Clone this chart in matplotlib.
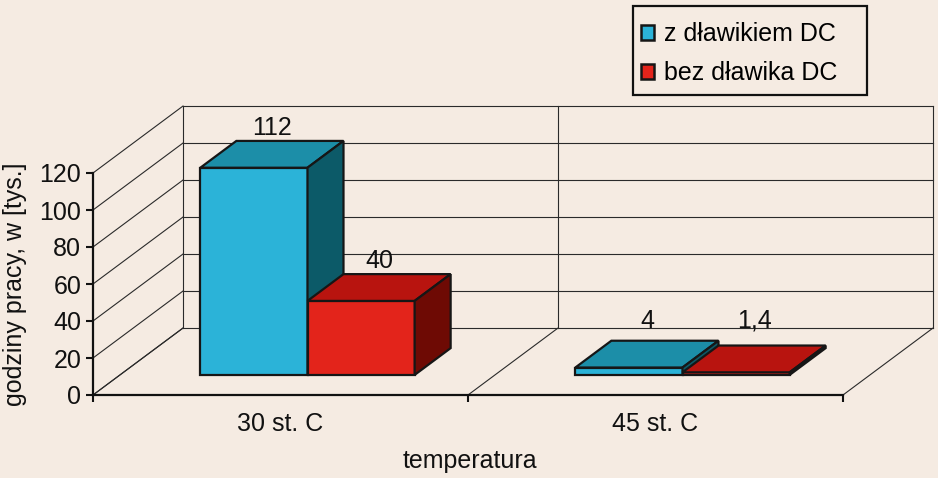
import matplotlib
matplotlib.use("Agg")
import matplotlib.pyplot as plt
from matplotlib.patches import Polygon, Patch, Rectangle

# ---- data ----
categories = ["30 st. C", "45 st. C"]
series_names = ["z dławikiem DC", "bez dławika DC"]
with_choke = [112, 4]
without_choke = [40, 1.4]
value_labels = [["112", "4"], ["40", "1,4"]]
y_ticks = [0, 20, 40, 60, 80, 100, 120]
y_label = "godziny pracy, w [tys.]"
x_label = "temperatura"

# ---- style ----
bg = "#F5EBE2"
front_cols = ["#2BB3D8", "#E3241B"]
top_cols = ["#1C8EA8", "#B8140F"]
side_cols = ["#0C5A68", "#6E0A04"]
edge = "#161616"
grid_col = "#2a2a2a"
FS = 18
plt.rcParams["font.family"] = ["Liberation Sans", "DejaVu Sans"]

# oblique depth of floor (in data units)
DX, DY = 0.24, 36.2
d_front, d_back = 0.3, 0.7
gap = 1.5
n_series = 2
w = 1.0 / (n_series + gap)

fig = plt.figure(figsize=(9.38, 4.78), dpi=100, facecolor=bg)
ax = fig.add_axes([93 / 938, (478 - 395) / 478, 750 / 938, 222 / 478])
ax.set_xlim(0, len(categories))
ax.set_ylim(0, max(y_ticks))
ax.patch.set_visible(False)

def P(x, y, d):
    return (x + d * DX, y + d * DY)

ymax = max(y_ticks)
ncat = len(categories)
# back wall gridlines and side wall diagonals
for v in y_ticks:
    a = P(0, v, 1); b = P(ncat, v, 1)
    ax.plot([a[0], b[0]], [a[1], b[1]], color=grid_col, lw=0.8, clip_on=False, zorder=1)
    c = P(0, v, 0)
    ax.plot([c[0], a[0]], [c[1], a[1]], color=grid_col, lw=0.8, clip_on=False, zorder=1)
# vertical lines on back wall and floor diagonals
for xc in range(ncat + 1):
    a = P(xc, 0, 1); b = P(xc, ymax, 1)
    ax.plot([a[0], b[0]], [a[1], b[1]], color=grid_col, lw=0.8, clip_on=False, zorder=1)
    f0 = P(xc, 0, 0)
    ax.plot([f0[0], a[0]], [f0[1], a[1]], color=grid_col, lw=0.8, clip_on=False, zorder=1)

# bars
series = [with_choke, without_choke]
label_floor = 8.0
for i in range(ncat):
    for k in range(n_series):
        v = series[k][i]
        x0 = i + gap / 2 * w + k * w
        x1 = x0 + w
        front = [P(x0, 0, d_front), P(x1, 0, d_front), P(x1, v, d_front), P(x0, v, d_front)]
        top = [P(x0, v, d_front), P(x1, v, d_front), P(x1, v, d_back), P(x0, v, d_back)]
        side = [P(x1, 0, d_front), P(x1, 0, d_back), P(x1, v, d_back), P(x1, v, d_front)]
        z = 3 + i * 10 + k * 3
        for poly, col, dz in ((front, front_cols[k], 0), (top, top_cols[k], 1), (side, side_cols[k], 2)):
            ax.add_patch(Polygon(poly, closed=True, facecolor=col, edgecolor=edge,
                                 lw=1.6, joinstyle="miter", clip_on=False, zorder=z + dz))
        lx, ly = P((x0 + x1) / 2, max(v, label_floor), 0.5)
        ax.annotate(value_labels[k][i], (lx, ly), xytext=(0, 13.7), textcoords="offset points",
                    ha="center", va="baseline", fontsize=FS, color="#111", zorder=50,
                    annotation_clip=False)

# axes styling
for s in ["top", "right"]:
    ax.spines[s].set_visible(False)
for s in ["left", "bottom"]:
    ax.spines[s].set_linewidth(1.6)
    ax.spines[s].set_color("#111")
    ax.spines[s].set_zorder(60)
ax.set_yticks(y_ticks)
ax.set_yticklabels([str(t) for t in y_ticks])
ax.tick_params(axis="y", direction="out", length=5, width=1.5, labelsize=FS, pad=3.5, colors="#111")
ax.set_xticks(range(ncat + 1))
ax.set_xticklabels([""] * (ncat + 1))
ax.tick_params(axis="x", which="major", direction="out", length=5, width=1.5, colors="#111")
ax.set_xticks([i + 0.5 for i in range(ncat)], minor=True)
ax.set_xticklabels(categories, minor=True)
ax.tick_params(axis="x", which="minor", length=0, labelsize=FS, pad=12, colors="#111")

ax.set_ylabel(y_label, fontsize=FS, color="#111")
ax.yaxis.set_label_coords(-0.088, 0.5)
ax.set_xlabel(x_label, fontsize=FS, color="#111")
ax.xaxis.set_label_coords(0.503, -0.245)

# legend: frame box + entries
fig.add_artist(Rectangle((633 / 938, 1 - 95 / 478), 234 / 938, 89 / 478,
                         transform=fig.transFigure, facecolor=bg, edgecolor="#111",
                         lw=1.6, zorder=70))
handles = [Patch(facecolor=front_cols[k], edgecolor=edge, lw=1.8) for k in range(n_series)]
leg = fig.legend(handles, series_names, loc="upper left",
                 bbox_to_anchor=(641 / 938, 1 - 22 / 478), bbox_transform=fig.transFigure,
                 fontsize=FS, frameon=False, handlelength=0.52, handleheight=0.55,
                 handletextpad=0.4, labelspacing=0.62, borderpad=0, borderaxespad=0)
leg.set_zorder(80)

fig.savefig("out.png", dpi=100, facecolor=bg)
